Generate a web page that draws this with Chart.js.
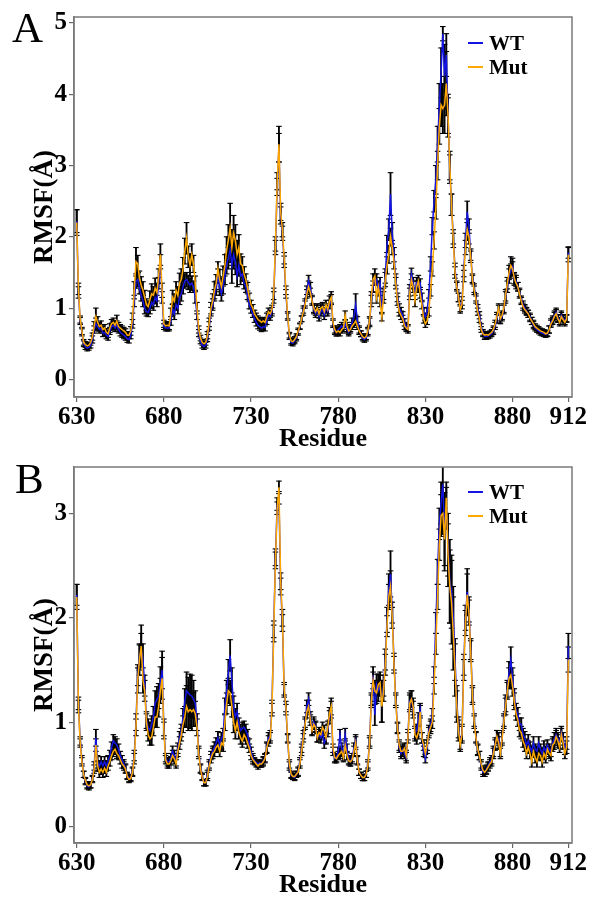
<!DOCTYPE html>
<html>
<head>
<meta charset="utf-8">
<script src="https://cdn.jsdelivr.net/npm/chart.js@4.4.1/dist/chart.umd.min.js"></script>
<style>
  body { margin: 0; background: #fff; }
  #wrap { position: relative; width: 592px; height: 901px; overflow: hidden; }
  canvas { position: absolute; left: 0; }
  .letter { position: absolute; font-family: "Liberation Serif", serif; font-size: 43px; line-height: 1; color: #000; }
  .legend { position: absolute; left: 468px; font-family: "Liberation Serif", serif; font-weight: bold; font-size: 21px; line-height: 1; color: #000; }
  .legend .row { display: flex; align-items: center; height: 24px; }
  .legend .ln { display: inline-block; width: 15px; height: 2px; margin-right: 6px; }
</style>
</head>
<body>
<div id="wrap">
  <canvas id="chartA" width="592" height="450" style="top:0"></canvas>
  <canvas id="chartB" width="592" height="451" style="top:450px"></canvas>
  <div class="letter" style="left:12px;top:6px">A</div>
  <div class="letter" style="left:15px;top:457px">B</div>
  <div class="legend" style="top:31px">
    <div class="row"><span class="ln" style="background:#1414e0"></span>WT</div>
    <div class="row"><span class="ln" style="background:#ffa800"></span>Mut</div>
  </div>
  <div class="legend" style="top:480px">
    <div class="row"><span class="ln" style="background:#1414e0"></span>WT</div>
    <div class="row"><span class="ln" style="background:#ffa800"></span>Mut</div>
  </div>
</div>
<script>
// residues 630..912, one value per residue
const firstResidue = 630;
const residueCount = 283;
const residues = Array.from({ length: residueCount }, (_, i) => firstResidue + i);
const xTicks = [630, 680, 730, 780, 830, 880, 912];
const yTicksA = [0, 1, 2, 3, 4, 5];
const yTicksB = [0, 1, 2, 3];

// --- panel A ---
const wtA = [
  2.22,1.22,0.82,0.66,0.50,0.46,0.44,0.45,0.48,0.56, // 630
  0.70,0.78,0.74,0.70,0.72,0.65,0.66,0.62,0.60,0.68, // 640
  0.74,0.76,0.72,0.76,0.70,0.66,0.64,0.62,0.60,0.57, // 650
  0.56,0.62,0.78,1.10,1.38,1.40,1.28,1.18,1.10,1.00, // 660
  0.95,0.94,1.00,1.08,1.05,1.15,1.10,1.35,1.65,1.15, // 670
  0.74,0.72,0.72,0.72,0.82,0.98,0.92,1.05,1.00,1.15, // 680
  1.20,1.30,1.38,1.40,1.36,1.32,1.35,1.30,1.15,0.90, // 690
  0.65,0.54,0.48,0.46,0.48,0.58,0.75,0.95,1.05,1.18, // 700
  1.28,1.45,1.30,1.20,1.32,1.45,1.62,1.70,1.82,1.60, // 710
  1.75,1.65,1.45,1.60,1.45,1.48,1.35,1.30,1.18,1.05, // 720
  0.98,0.92,0.85,0.80,0.76,0.74,0.72,0.74,0.73,0.82, // 730
  0.90,0.88,0.95,1.15,1.85,2.70,3.25,2.30,2.05,1.65, // 740
  1.20,0.88,0.60,0.52,0.51,0.54,0.58,0.66,0.74,0.85, // 750
  0.98,1.08,1.25,1.38,1.28,1.12,0.98,0.92,0.98,0.88, // 760
  0.95,0.98,0.90,1.00,0.95,1.05,1.12,0.78,0.68,0.66, // 770
  0.70,0.72,0.75,0.72,0.78,0.70,0.66,0.72,0.80,0.88, // 780
  1.05,0.82,0.70,0.64,0.58,0.56,0.58,0.66,0.80,1.10, // 790
  1.30,1.40,1.40,1.25,1.35,1.00,1.20,1.45,1.90,2.10, // 800
  2.60,2.05,1.75,1.40,1.15,1.00,0.95,0.90,0.80,0.74, // 810
  0.72,1.25,1.48,1.35,1.20,1.35,1.30,1.35,1.15,0.95, // 820
  0.88,0.95,1.20,1.62,2.15,2.50,2.80,3.30,3.85,4.30, // 830
  4.85,4.25,4.55,3.70,2.95,2.45,2.00,1.55,1.32,1.15, // 840
  1.00,1.10,1.52,1.95,2.35,2.15,1.75,1.42,1.28,1.15, // 850
  1.00,0.90,0.74,0.66,0.60,0.60,0.61,0.62,0.64,0.68, // 860
  0.75,0.85,0.98,0.84,0.88,0.98,1.15,1.30,1.45,1.52, // 870
  1.58,1.40,1.38,1.30,1.22,1.12,1.05,1.00,0.96,0.92, // 880
  0.88,0.82,0.76,0.72,0.70,0.68,0.66,0.65,0.64,0.63, // 890
  0.64,0.70,0.80,0.84,0.90,0.94,0.86,0.82,0.90,0.86, // 900
  0.82,0.86,1.78                                      // 910
];
const mutA = [
  2.20,1.27,0.84,0.68,0.52,0.49,0.47,0.48,0.52,0.60, // 630
  0.75,0.88,0.80,0.74,0.76,0.70,0.72,0.66,0.64,0.72, // 640
  0.78,0.80,0.76,0.82,0.74,0.72,0.70,0.68,0.66,0.62, // 650
  0.62,0.68,0.85,1.25,1.65,1.62,1.42,1.32,1.25,1.15, // 660
  1.05,1.02,1.12,1.20,1.18,1.28,1.22,1.45,1.75,1.25, // 670
  0.78,0.75,0.76,0.75,0.92,1.15,1.10,1.25,1.18,1.35, // 680
  1.40,1.55,1.80,1.98,1.72,1.60,1.75,1.62,1.35,1.00, // 690
  0.70,0.58,0.52,0.50,0.52,0.62,0.80,1.00,1.10,1.25, // 700
  1.35,1.55,1.40,1.30,1.45,1.60,1.82,1.95,2.12,1.85, // 710
  2.05,1.95,1.75,1.85,1.62,1.60,1.48,1.40,1.28,1.15, // 720
  1.05,1.00,0.92,0.88,0.84,0.82,0.80,0.82,0.80,0.88, // 730
  0.95,0.92,0.98,1.20,1.90,2.78,3.30,2.35,2.10,1.70, // 740
  1.25,0.90,0.62,0.54,0.53,0.56,0.60,0.68,0.75,0.85, // 750
  0.95,1.05,1.20,1.30,1.22,1.10,1.00,0.95,1.00,0.92, // 760
  1.00,1.02,0.95,1.05,0.98,1.10,1.15,0.80,0.70,0.66, // 770
  0.68,0.66,0.70,0.72,0.90,0.75,0.68,0.70,0.75,0.78, // 780
  0.82,0.75,0.68,0.64,0.60,0.58,0.60,0.68,0.82,1.15, // 790
  1.40,1.45,1.15,1.30,1.10,0.88,1.15,1.40,1.60,1.75, // 800
  2.00,1.85,1.65,1.35,1.10,0.95,0.90,0.85,0.75,0.72, // 810
  0.70,1.20,1.40,1.30,1.10,1.30,1.38,1.20,1.05,0.85, // 820
  0.78,0.82,0.95,1.25,1.55,1.95,2.40,3.00,3.55,3.85, // 830
  3.80,3.85,4.15,3.70,3.00,2.45,1.95,1.50,1.30,1.15, // 840
  0.98,1.05,1.45,1.85,2.10,2.00,1.72,1.40,1.25,1.12, // 850
  0.95,0.85,0.70,0.64,0.62,0.63,0.62,0.64,0.66,0.70, // 860
  0.78,0.88,1.00,0.85,0.90,1.00,1.18,1.35,1.50,1.60, // 870
  1.55,1.42,1.35,1.30,1.20,1.10,1.02,0.98,0.95,0.92, // 880
  0.86,0.82,0.78,0.74,0.72,0.70,0.68,0.67,0.66,0.64, // 890
  0.65,0.70,0.78,0.82,0.88,0.92,0.85,0.80,0.88,0.84, // 900
  0.80,0.85,1.75                                      // 910
];
const errWtA = [
  .16,.08,.05,.05,.04,.04,.04,.04,.04,.05, // 630
  .05,.08,.06,.05,.05,.05,.05,.05,.05,.05, // 640
  .05,.05,.05,.06,.05,.05,.05,.05,.05,.05, // 650
  .05,.05,.06,.08,.10,.10,.08,.08,.08,.08, // 660
  .06,.06,.08,.08,.08,.08,.08,.08,.10,.08, // 670
  .04,.04,.04,.04,.06,.08,.08,.08,.08,.10, // 680
  .10,.10,.10,.10,.10,.10,.10,.08,.08,.06, // 690
  .05,.04,.04,.04,.04,.05,.06,.06,.08,.08, // 700
  .10,.10,.12,.10,.12,.12,.14,.15,.18,.25, // 710
  .20,.18,.15,.15,.12,.10,.08,.08,.06,.06, // 720
  .05,.05,.05,.05,.05,.05,.05,.05,.05,.05, // 730
  .05,.05,.06,.08,.10,.12,.20,.12,.10,.08, // 740
  .06,.05,.04,.04,.04,.04,.04,.04,.04,.04, // 750
  .05,.05,.06,.08,.08,.06,.06,.05,.06,.06, // 760
  .06,.06,.06,.06,.06,.06,.07,.05,.05,.05, // 770
  .05,.05,.05,.05,.05,.05,.05,.05,.06,.10, // 780
  .15,.06,.05,.04,.04,.04,.04,.05,.06,.08, // 790
  .08,.08,.08,.08,.08,.08,.08,.10,.12,.15, // 800
  .30,.15,.10,.08,.06,.06,.06,.05,.05,.05, // 810
  .05,.08,.08,.08,.08,.08,.08,.06,.06,.06, // 820
  .05,.05,.06,.10,.12,.15,.20,.25,.30,.35, // 830
  .10,.45,.30,.25,.20,.15,.10,.08,.06,.06, // 840
  .05,.06,.08,.10,.15,.10,.08,.06,.06,.05, // 850
  .05,.05,.04,.04,.04,.04,.04,.04,.04,.05, // 860
  .05,.06,.06,.06,.06,.06,.08,.08,.10,.10, // 870
  .12,.08,.08,.06,.06,.05,.05,.05,.05,.05, // 880
  .05,.05,.05,.04,.04,.04,.04,.04,.04,.04, // 890
  .04,.05,.05,.05,.06,.06,.05,.05,.06,.05, // 900
  .05,.05,.08                              // 910
];
const errMutA = [
  .18,.08,.05,.05,.04,.04,.04,.04,.04,.05, // 630
  .06,.12,.08,.06,.06,.05,.05,.05,.05,.06, // 640
  .06,.06,.06,.08,.06,.05,.05,.05,.05,.05, // 650
  .05,.06,.08,.12,.20,.12,.10,.12,.12,.10, // 660
  .08,.08,.12,.14,.12,.14,.12,.10,.15,.10, // 670
  .05,.05,.05,.05,.08,.10,.10,.12,.12,.14, // 680
  .15,.16,.18,.22,.15,.16,.15,.12,.10,.08, // 690
  .05,.04,.04,.04,.04,.05,.06,.08,.10,.12, // 700
  .12,.10,.14,.12,.14,.15,.18,.22,.35,.25, // 710
  .25,.22,.20,.18,.14,.12,.10,.08,.08,.06, // 720
  .06,.05,.05,.05,.05,.05,.05,.05,.05,.05, // 730
  .05,.05,.06,.08,.10,.12,.25,.12,.10,.08, // 740
  .06,.05,.04,.04,.04,.04,.04,.04,.04,.04, // 750
  .05,.05,.06,.08,.06,.06,.06,.05,.06,.06, // 760
  .06,.06,.06,.06,.06,.07,.08,.05,.05,.05, // 770
  .05,.05,.05,.05,.06,.05,.05,.05,.05,.05, // 780
  .06,.05,.05,.04,.04,.04,.04,.05,.06,.08, // 790
  .08,.10,.08,.08,.08,.06,.08,.10,.12,.12, // 800
  .12,.10,.10,.08,.06,.06,.06,.05,.05,.05, // 810
  .05,.08,.08,.08,.08,.08,.08,.06,.06,.06, // 820
  .05,.05,.06,.08,.10,.12,.15,.20,.25,.30, // 830
  .35,.40,.45,.30,.20,.15,.10,.08,.06,.06, // 840
  .05,.06,.08,.10,.15,.10,.08,.06,.06,.05, // 850
  .05,.05,.04,.04,.04,.04,.04,.04,.04,.05, // 860
  .05,.06,.06,.06,.06,.06,.08,.08,.10,.12, // 870
  .10,.08,.08,.06,.06,.05,.05,.05,.05,.05, // 880
  .05,.05,.05,.04,.04,.04,.04,.04,.04,.04, // 890
  .04,.05,.05,.05,.06,.06,.05,.05,.06,.05, // 900
  .05,.05,.10                              // 910
];

// --- panel B ---
const wtB = [
  2.22,1.18,0.82,0.64,0.50,0.43,0.39,0.38,0.40,0.46, // 630
  0.58,0.85,0.62,0.58,0.62,0.58,0.62,0.58,0.63,0.68, // 640
  0.76,0.82,0.80,0.78,0.74,0.68,0.64,0.60,0.56,0.49, // 650
  0.46,0.47,0.53,0.68,1.00,1.45,1.62,1.70,1.60,1.35, // 660
  1.02,0.95,0.92,0.98,1.05,1.18,1.22,1.25,1.38,1.50, // 670
  0.95,0.66,0.62,0.62,0.66,0.72,0.68,0.62,0.75,0.85, // 680
  0.92,1.05,1.20,1.30,1.28,1.26,1.25,1.22,1.18,1.00, // 690
  0.72,0.56,0.48,0.42,0.42,0.50,0.60,0.68,0.72,0.76, // 700
  0.80,0.85,0.78,0.84,0.88,1.15,1.30,1.48,1.64,1.40, // 710
  1.15,1.05,1.10,0.98,0.92,0.94,0.95,0.92,0.88,0.80, // 720
  0.72,0.66,0.63,0.61,0.60,0.61,0.60,0.63,0.66,0.76, // 730
  0.85,0.87,1.15,1.89,2.58,3.09,3.15,2.30,1.95,1.30, // 740
  1.12,0.84,0.58,0.49,0.48,0.47,0.50,0.53,0.62,0.75, // 750
  0.88,1.00,1.15,1.22,1.05,0.93,1.00,0.96,0.85,0.88, // 760
  0.85,0.90,0.80,0.84,0.92,1.05,1.12,0.72,0.65,0.66, // 770
  0.72,0.88,0.75,0.67,0.88,0.75,0.64,0.62,0.66,0.75, // 780
  0.82,0.64,0.52,0.49,0.47,0.47,0.50,0.60,0.82,1.22, // 790
  1.45,1.07,1.36,1.30,1.35,1.20,1.35,1.60,1.98,2.27, // 800
  2.42,2.05,1.58,1.22,0.95,0.76,0.70,0.74,0.70,0.66, // 810
  0.88,1.20,1.22,1.12,0.90,0.92,1.03,1.12,0.85,0.72, // 820
  0.65,0.75,0.92,0.97,1.07,1.45,1.95,2.44,2.90,3.10, // 830
  3.28,2.85,3.05,2.70,2.35,2.25,2.00,1.60,1.20,0.95, // 840
  0.80,0.90,1.55,2.00,2.25,2.08,1.70,1.27,1.02,0.86, // 850
  0.73,0.68,0.58,0.52,0.52,0.55,0.58,0.62,0.64,0.72, // 860
  0.80,0.86,0.84,0.72,0.86,1.02,1.18,1.32,1.48,1.60, // 870
  1.42,1.24,1.12,1.08,0.98,0.98,0.88,0.85,0.78,0.82, // 880
  0.76,0.72,0.80,0.74,0.72,0.80,0.74,0.70,0.76,0.72, // 890
  0.78,0.74,0.72,0.80,0.84,0.88,0.84,0.80,0.90,0.84, // 900
  0.74,0.80,1.73                                      // 910
];
const mutB = [
  2.20,1.15,0.80,0.62,0.50,0.44,0.40,0.39,0.40,0.45, // 630
  0.55,0.78,0.58,0.52,0.55,0.52,0.56,0.52,0.58,0.62, // 640
  0.68,0.72,0.74,0.70,0.68,0.64,0.60,0.58,0.55,0.48, // 650
  0.45,0.46,0.52,0.65,0.95,1.40,1.60,1.73,1.40,1.30, // 660
  1.00,0.88,0.84,0.86,0.95,1.05,1.05,1.15,1.30,1.42, // 670
  0.92,0.64,0.60,0.60,0.63,0.68,0.65,0.60,0.72,0.80, // 680
  0.88,0.98,1.05,1.15,1.10,1.12,1.10,1.12,1.08,0.95, // 690
  0.70,0.55,0.47,0.42,0.42,0.48,0.58,0.65,0.70,0.72, // 700
  0.76,0.78,0.72,0.80,0.78,1.00,1.18,1.30,1.28,1.15, // 710
  1.00,0.92,1.00,0.90,0.85,0.82,0.88,0.85,0.80,0.75, // 720
  0.68,0.64,0.62,0.60,0.58,0.60,0.60,0.62,0.65,0.75, // 730
  0.82,0.85,1.12,1.85,2.55,3.05,3.25,2.35,2.00,1.32, // 740
  1.15,0.85,0.60,0.50,0.48,0.48,0.50,0.52,0.60,0.72, // 750
  0.85,0.98,1.10,1.15,1.02,0.92,0.98,0.95,0.85,0.90, // 760
  0.88,0.95,0.92,0.85,0.95,1.08,1.15,0.75,0.66,0.65, // 770
  0.68,0.70,0.72,0.66,0.78,0.68,0.63,0.62,0.64,0.72, // 780
  0.80,0.63,0.52,0.49,0.47,0.47,0.50,0.58,0.80,1.20, // 790
  1.40,1.30,1.28,1.36,1.38,1.15,1.30,1.55,1.92,2.20, // 800
  2.30,2.00,1.55,1.20,0.94,0.78,0.72,0.72,0.75,0.68, // 810
  0.85,1.18,1.22,1.15,0.88,0.85,0.90,1.10,0.85,0.78, // 820
  0.70,0.78,0.90,0.95,1.00,1.35,1.75,2.20,2.70,2.98, // 830
  3.00,2.75,3.15,2.60,2.30,2.15,1.85,1.50,1.15,0.92, // 840
  0.78,0.88,1.50,1.95,2.22,2.05,1.68,1.25,1.00,0.85, // 850
  0.74,0.68,0.60,0.54,0.52,0.54,0.57,0.60,0.62,0.70, // 860
  0.78,0.86,0.80,0.70,0.84,1.00,1.15,1.30,1.42,1.45, // 870
  1.35,1.20,1.08,1.02,0.92,0.90,0.82,0.78,0.70,0.76, // 880
  0.70,0.62,0.72,0.66,0.62,0.70,0.68,0.62,0.70,0.66, // 890
  0.74,0.70,0.68,0.78,0.80,0.86,0.82,0.76,0.88,0.80, // 900
  0.70,0.76,1.60                                      // 910
];
const errWtB = [
  .10,.06,.04,.04,.03,.03,.03,.03,.03,.03, // 630
  .04,.08,.06,.05,.05,.05,.05,.05,.05,.05, // 640
  .05,.06,.06,.06,.05,.04,.04,.04,.04,.03, // 650
  .03,.03,.04,.05,.08,.10,.12,.15,.15,.10, // 660
  .08,.08,.08,.08,.10,.12,.12,.12,.15,.18, // 670
  .08,.04,.04,.04,.04,.05,.05,.04,.05,.06, // 680
  .06,.08,.12,.18,.15,.20,.20,.18,.12,.08, // 690
  .05,.04,.03,.03,.03,.04,.04,.04,.05,.05, // 700
  .05,.06,.05,.06,.06,.08,.10,.12,.15,.12, // 710
  .10,.08,.08,.06,.06,.06,.06,.06,.05,.04, // 720
  .04,.04,.03,.03,.03,.03,.03,.04,.04,.05, // 730
  .05,.05,.06,.08,.08,.06,.06,.08,.08,.06, // 740
  .05,.04,.04,.03,.03,.03,.03,.04,.04,.04, // 750
  .04,.05,.06,.06,.05,.05,.05,.05,.04,.05, // 760
  .05,.05,.05,.05,.06,.06,.08,.04,.04,.04, // 770
  .04,.05,.05,.04,.06,.04,.04,.04,.04,.05, // 780
  .06,.04,.03,.03,.03,.03,.03,.04,.05,.06, // 790
  .08,.10,.10,.10,.10,.20,.10,.10,.12,.15, // 800
  .22,.10,.08,.06,.05,.05,.05,.05,.05,.05, // 810
  .05,.08,.08,.08,.06,.06,.06,.06,.05,.05, // 820
  .04,.05,.05,.06,.06,.08,.10,.12,.15,.20, // 830
  .20,.35,.20,.30,.40,.35,.30,.20,.15,.10, // 840
  .06,.08,.10,.12,.22,.12,.10,.08,.06,.05, // 850
  .05,.04,.04,.04,.04,.04,.04,.04,.04,.05, // 860
  .05,.06,.06,.05,.06,.06,.08,.08,.10,.12, // 870
  .10,.08,.06,.06,.06,.06,.06,.06,.05,.06, // 880
  .05,.05,.06,.05,.05,.06,.05,.05,.06,.05, // 890
  .05,.05,.05,.06,.06,.06,.06,.05,.06,.06, // 900
  .05,.06,.12                              // 910
];
const errMutB = [
  .12,.06,.04,.04,.03,.03,.03,.03,.03,.03, // 630
  .04,.06,.05,.05,.05,.05,.05,.04,.04,.04, // 640
  .04,.05,.05,.05,.04,.04,.04,.04,.04,.03, // 650
  .03,.03,.04,.05,.08,.12,.15,.20,.12,.10, // 660
  .08,.06,.06,.08,.08,.10,.10,.10,.12,.20, // 670
  .08,.04,.04,.04,.04,.05,.05,.04,.05,.06, // 680
  .06,.08,.10,.20,.18,.18,.18,.16,.12,.08, // 690
  .05,.04,.03,.03,.03,.04,.04,.04,.05,.05, // 700
  .05,.06,.05,.06,.06,.08,.10,.12,.12,.10, // 710
  .10,.08,.08,.06,.06,.06,.06,.06,.05,.04, // 720
  .04,.04,.03,.03,.03,.03,.03,.04,.04,.05, // 730
  .05,.05,.06,.08,.08,.06,.06,.08,.08,.06, // 740
  .05,.04,.04,.03,.03,.03,.03,.04,.04,.04, // 750
  .04,.05,.06,.06,.05,.05,.05,.05,.04,.05, // 760
  .05,.05,.05,.05,.06,.06,.08,.04,.04,.04, // 770
  .04,.05,.05,.04,.06,.04,.04,.04,.04,.05, // 780
  .06,.04,.03,.03,.03,.03,.03,.04,.05,.06, // 790
  .08,.10,.10,.10,.10,.15,.10,.10,.10,.12, // 800
  .15,.10,.08,.06,.05,.05,.05,.05,.05,.05, // 810
  .05,.08,.08,.08,.06,.06,.06,.06,.05,.05, // 820
  .04,.05,.05,.06,.06,.08,.10,.12,.15,.20, // 830
  .20,.30,.15,.30,.35,.40,.35,.25,.15,.10, // 840
  .06,.08,.10,.12,.20,.12,.10,.08,.06,.05, // 850
  .05,.04,.04,.04,.04,.04,.04,.04,.04,.05, // 860
  .05,.06,.06,.05,.06,.06,.08,.08,.10,.12, // 870
  .10,.08,.06,.06,.06,.06,.06,.06,.05,.06, // 880
  .05,.05,.06,.05,.05,.06,.05,.05,.06,.05, // 890
  .05,.05,.05,.06,.06,.06,.06,.05,.06,.06, // 900
  .05,.06,.12                              // 910
];

const WT_COLOR = '#1414e0';
const MUT_COLOR = '#ffa800';
const FONT = '"Liberation Serif", "Times New Roman", serif';

// box around the plot area (matplotlib style spines)
const framePlugin = {
  id: 'frame',
  afterDatasetsDraw(chart) {
    const { ctx, chartArea: a } = chart;
    ctx.save();
    ctx.strokeStyle = '#7a7a7a';
    ctx.lineWidth = 1.5;
    ctx.strokeRect(a.left, a.top, a.right - a.left, a.bottom - a.top);
    ctx.restore();
  }
};

function errorSets(values, err) {
  const whisker = {
    type: 'bar', data: values.map((v, i) => [v - err[i], v + err[i]]),
    backgroundColor: '#000', borderWidth: 0, barThickness: 1.2, grouped: false, order: 3
  };
  const cap = (sign) => ({
    type: 'line', data: values.map((v, i) => v + sign * err[i]), showLine: false,
    pointStyle: 'line', pointRadius: 2.8, pointBorderColor: '#000', pointBorderWidth: 1.1,
    pointHoverRadius: 0, order: 2
  });
  return [whisker, cap(1), cap(-1)];
}

function makePanel(id, wt, mut, errWt, errMut, yMin, yMax, yTicks, topPad, xAxisH, titlePad) {
  const ctx = document.getElementById(id).getContext('2d');
  return new Chart(ctx, {
    type: 'line',
    data: {
      labels: residues,
      datasets: [
        { label: 'Mut', data: mut, borderColor: MUT_COLOR, borderWidth: 1.5, pointRadius: 0, tension: 0, order: 0 },
        { label: 'WT', data: wt, borderColor: WT_COLOR, borderWidth: 1.5, pointRadius: 0, tension: 0, order: 1 },
        ...errorSets(wt, errWt),
        ...errorSets(mut, errMut)
      ]
    },
    options: {
      responsive: false,
      animation: false,
      layout: { padding: { top: topPad, right: 20, left: 0, bottom: 0 } },
      plugins: { legend: { display: false }, tooltip: { enabled: false } },
      scales: {
        x: {
          type: 'linear', min: 628.45, max: 914.1, offset: false,
          afterBuildTicks: (s) => { s.ticks = xTicks.map(v => ({ value: v })); },
          afterFit: (s) => { s.height = xAxisH; },
          ticks: { autoSkip: false, maxRotation: 0, padding: 1, color: '#000',
                   font: { family: FONT, weight: 'bold', size: 25 }, callback: (v) => String(v) },
          grid: { offset: false, drawOnChartArea: false, drawTicks: true, tickLength: 5, color: '#666', lineWidth: 1.2 },
          border: { display: true, color: '#7a7a7a', width: 1.5 },
          title: { display: true, text: 'Residue', color: '#000',
                   font: { family: FONT, weight: 'bold', size: 26, lineHeight: 0.8 },
                   padding: { top: 0, bottom: titlePad } }
        },
        y: {
          min: yMin, max: yMax,
          afterBuildTicks: (s) => { s.ticks = yTicks.map(v => ({ value: v })); },
          afterFit: (s) => { s.width = 74; },
          ticks: { padding: 2, color: '#000', font: { family: FONT, weight: 'bold', size: 25 },
                   callback: (v) => String(v) },
          grid: { offset: false, drawOnChartArea: false, drawTicks: true, tickLength: 5, color: '#666', lineWidth: 1.2 },
          border: { display: true, color: '#7a7a7a', width: 1.5 },
          title: { display: true, text: 'RMSF(Å)', color: '#000',
                   font: { family: FONT, weight: 'bold', size: 27, lineHeight: 1.2 },
                   padding: { top: 29, bottom: 0 } }
        }
      }
    },
    plugins: [framePlugin]
  });
}

makePanel('chartA', wtA, mutA, errWtA, errMutA, -0.247, 5.084, yTicksA, 15, 53, 0);
makePanel('chartB', wtB, mutB, errWtB, errMutB, -0.158, 3.445, yTicksB, 12, 58, 5);
</script>
</body>
</html>
